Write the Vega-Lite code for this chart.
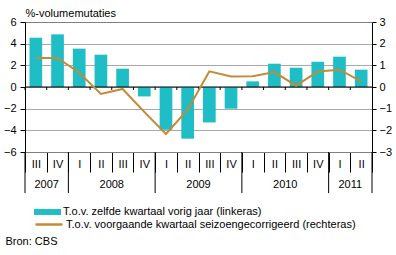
{
  "$schema": "https://vega.github.io/schema/vega-lite/v6.json",
  "width": 347,
  "height": 130,
  "autosize": "none",
  "padding": {"left": 25, "top": 22, "right": 24, "bottom": 103},
  "config": {
    "font": "Liberation Sans",
    "view": {"stroke": null},
    "axis": {
      "labelFont": "Liberation Sans",
      "labelFontSize": 11,
      "labelColor": "#000",
      "titleFont": "Liberation Sans",
      "titleFontSize": 11,
      "titleFontWeight": "normal",
      "titleColor": "#000",
      "domainColor": "#000",
      "tickColor": "#000",
      "labelOverlap": false
    },
    "legend": {
      "labelFont": "Liberation Sans",
      "labelFontSize": 11,
      "labelColor": "#000",
      "labelLimit": 0
    }
  },
  "datasets": {
    "bbp": [
      {"kwartaal": "2007-III", "jaar": "2007", "jj": 4.55, "kk": 1.34},
      {"kwartaal": "2007-IV", "jaar": "2007", "jj": 4.86, "kk": 1.34},
      {"kwartaal": "2008-I", "jaar": "2008", "jj": 3.54, "kk": 0.66},
      {"kwartaal": "2008-II", "jaar": "2008", "jj": 2.98, "kk": -0.32},
      {"kwartaal": "2008-III", "jaar": "2008", "jj": 1.69, "kk": -0.09},
      {"kwartaal": "2008-IV", "jaar": "2008", "jj": -0.87, "kk": -1.15},
      {"kwartaal": "2009-I", "jaar": "2009", "jj": -3.95, "kk": -2.17},
      {"kwartaal": "2009-II", "jaar": "2009", "jj": -4.77, "kk": -1.05},
      {"kwartaal": "2009-III", "jaar": "2009", "jj": -3.27, "kk": 0.72},
      {"kwartaal": "2009-IV", "jaar": "2009", "jj": -2.0, "kk": 0.49},
      {"kwartaal": "2010-I", "jaar": "2010", "jj": 0.52, "kk": 0.5},
      {"kwartaal": "2010-II", "jaar": "2010", "jj": 2.15, "kk": 0.69},
      {"kwartaal": "2010-III", "jaar": "2010", "jj": 1.78, "kk": 0.06},
      {"kwartaal": "2010-IV", "jaar": "2010", "jj": 2.33, "kk": 0.72},
      {"kwartaal": "2011-I", "jaar": "2011", "jj": 2.8, "kk": 0.8},
      {"kwartaal": "2011-II", "jaar": "2011", "jj": 1.6, "kk": 0.26}
    ]
  },
  "data": {"name": "bbp"},
  "encoding": {
    "x": {
      "field": "kwartaal",
      "type": "ordinal",
      "scale": {"paddingInner": 0, "paddingOuter": 0},
      "axis": {
        "orient": "bottom",
        "title": "Bron: CBS",
        "titleX": -20,
        "titleY": 89.7,
        "titleAlign": "left",
        "titleAnchor": "start",
        "titleBaseline": "middle",
        "tickBand": "extent",
        "tickSize": 20,
        "labelAngle": 0,
        "labelAlign": "center",
        "labelBaseline": "middle",
        "labelPadding": -8,
        "labelExpr": "slice(datum.label, 5)",
        "domainColor": "#808080",
        "grid": false
      }
    }
  },
  "layer": [
    {
      "mark": {"type": "bar", "width": {"band": 0.585}},
      "encoding": {
        "y": {
          "field": "jj",
          "type": "quantitative",
          "scale": {"domain": [-6, 6], "nice": false},
          "axis": {
            "orient": "left",
            "values": [-6, -4, -2, 0, 2, 4, 6],
            "title": "%-volumemutaties",
            "titleAngle": 0,
            "titleAlign": "left",
            "titleAnchor": "start",
            "titleBaseline": "alphabetic",
            "titleX": 0,
            "titleY": -6,
            "grid": true,
            "gridColor": {"condition": {"test": "abs(datum.value) == 6", "value": "#808080"}, "value": "#a8a8a8"},
            "tickSize": 5,
            "labelPadding": 4
          }
        },
        "y2": {"datum": 0},
        "fill": {
          "datum": "T.o.v. zelfde kwartaal vorig jaar (linkeras)",
          "scale": {"range": ["#1fbdc6"]},
          "legend": {
            "title": null,
            "orient": "none",
            "legendX": 9,
            "legendY": 176.5,
            "padding": 0,
            "symbolType": "M-1,-0.22H1V0.22H-1Z",
            "symbolSize": 729,
            "symbolStrokeWidth": 0,
            "labelOffset": 2
          }
        }
      }
    },
    {
      "transform": [{"aggregate": [{"op": "count", "as": "n"}]}],
      "mark": {"type": "rule", "color": "#000"},
      "encoding": {
        "x": null,
        "y": {"datum": 0, "scale": {"domain": [-6, 6], "nice": false}, "axis": null}
      }
    },
    {
      "mark": {"type": "rule", "color": "#000"},
      "encoding": {
        "x": {
          "field": "kwartaal",
          "type": "ordinal",
          "bandPosition": 0,
          "scale": {"paddingInner": 0, "paddingOuter": 0},
          "axis": {
            "orient": "bottom",
            "title": "Bron: CBS",
            "titleX": -20,
            "titleY": 89.7,
            "titleAlign": "left",
            "titleAnchor": "start",
            "titleBaseline": "middle",
            "tickBand": "extent",
            "tickSize": 20,
            "labelAngle": 0,
            "labelAlign": "center",
            "labelBaseline": "middle",
            "labelPadding": -8,
            "labelExpr": "slice(datum.label, 5)",
            "domainColor": "#808080",
            "grid": false
          }
        },
        "y": {"datum": 0, "scale": {"domain": [-6, 6], "nice": false}, "axis": null},
        "y2": {"datum": -0.28}
      }
    },
    {
      "transform": [
        {"window": [{"op": "row_number", "as": "nr"}], "groupby": ["jaar"]},
        {"filter": "datum.nr == 1"}
      ],
      "mark": {"type": "rule", "color": "#000"},
      "encoding": {
        "x": {
          "field": "kwartaal",
          "type": "ordinal",
          "bandPosition": 0,
          "scale": {"paddingInner": 0, "paddingOuter": 0},
          "axis": {
            "orient": "bottom",
            "title": "Bron: CBS",
            "titleX": -20,
            "titleY": 89.7,
            "titleAlign": "left",
            "titleAnchor": "start",
            "titleBaseline": "middle",
            "tickBand": "extent",
            "tickSize": 20,
            "labelAngle": 0,
            "labelAlign": "center",
            "labelBaseline": "middle",
            "labelPadding": -8,
            "labelExpr": "slice(datum.label, 5)",
            "domainColor": "#808080",
            "grid": false
          }
        },
        "y": {"datum": -6, "scale": {"domain": [-6, 6], "nice": false}, "axis": null},
        "y2": {"datum": -9.79}
      }
    },
    {
      "transform": [
        {"window": [{"op": "row_number", "as": "nr"}]},
        {"joinaggregate": [{"op": "count", "as": "n"}]},
        {"filter": "datum.nr == datum.n"}
      ],
      "mark": {"type": "rule", "color": "#000"},
      "encoding": {
        "x": {
          "field": "kwartaal",
          "type": "ordinal",
          "bandPosition": 1,
          "scale": {"paddingInner": 0, "paddingOuter": 0},
          "axis": {
            "orient": "bottom",
            "title": "Bron: CBS",
            "titleX": -20,
            "titleY": 89.7,
            "titleAlign": "left",
            "titleAnchor": "start",
            "titleBaseline": "middle",
            "tickBand": "extent",
            "tickSize": 20,
            "labelAngle": 0,
            "labelAlign": "center",
            "labelBaseline": "middle",
            "labelPadding": -8,
            "labelExpr": "slice(datum.label, 5)",
            "domainColor": "#808080",
            "grid": false
          }
        },
        "y": {"datum": -6, "scale": {"domain": [-6, 6], "nice": false}, "axis": null},
        "y2": {"datum": -9.79}
      }
    },
    {
      "transform": [
        {"window": [{"op": "row_number", "as": "nr"}], "groupby": ["jaar"]},
        {"joinaggregate": [{"op": "count", "as": "n"}], "groupby": ["jaar"]},
        {"filter": "datum.nr == floor(datum.n / 2) + 1"}
      ],
      "mark": {"type": "text", "fontSize": 11, "color": "#000", "baseline": "middle", "align": "center"},
      "encoding": {
        "x": {
          "field": "kwartaal",
          "type": "ordinal",
          "bandPosition": 0,
          "scale": {"paddingInner": 0, "paddingOuter": 0},
          "axis": {
            "orient": "bottom",
            "title": "Bron: CBS",
            "titleX": -20,
            "titleY": 89.7,
            "titleAlign": "left",
            "titleAnchor": "start",
            "titleBaseline": "middle",
            "tickBand": "extent",
            "tickSize": 20,
            "labelAngle": 0,
            "labelAlign": "center",
            "labelBaseline": "middle",
            "labelPadding": -8,
            "labelExpr": "slice(datum.label, 5)",
            "domainColor": "#808080",
            "grid": false
          }
        },
        "y": {"datum": -9.08, "scale": {"domain": [-6, 6], "nice": false}, "axis": null},
        "text": {"field": "jaar", "type": "nominal"}
      }
    },
    {
      "mark": {"type": "line", "strokeWidth": 2},
      "encoding": {
        "y": {
          "field": "kk",
          "type": "quantitative",
          "scale": {"domain": [-3, 3], "nice": false},
          "axis": {
            "orient": "right",
            "values": [-3, -2, -1, 0, 1, 2, 3],
            "title": null,
            "grid": false,
            "tickSize": 4,
            "labelPadding": 3
          }
        },
        "stroke": {
          "datum": "T.o.v. voorgaande kwartaal seizoengecorrigeerd (rechteras)",
          "scale": {"range": ["#c38b35"]},
          "legend": {
            "title": null,
            "orient": "none",
            "legendX": 9,
            "legendY": 187.5,
            "padding": 0,
            "symbolType": "M-1,0H1",
            "symbolSize": 729,
            "symbolStrokeWidth": 2.5,
            "labelOffset": 2
          }
        }
      }
    }
  ],
  "resolve": {"scale": {"y": "independent"}}
}
